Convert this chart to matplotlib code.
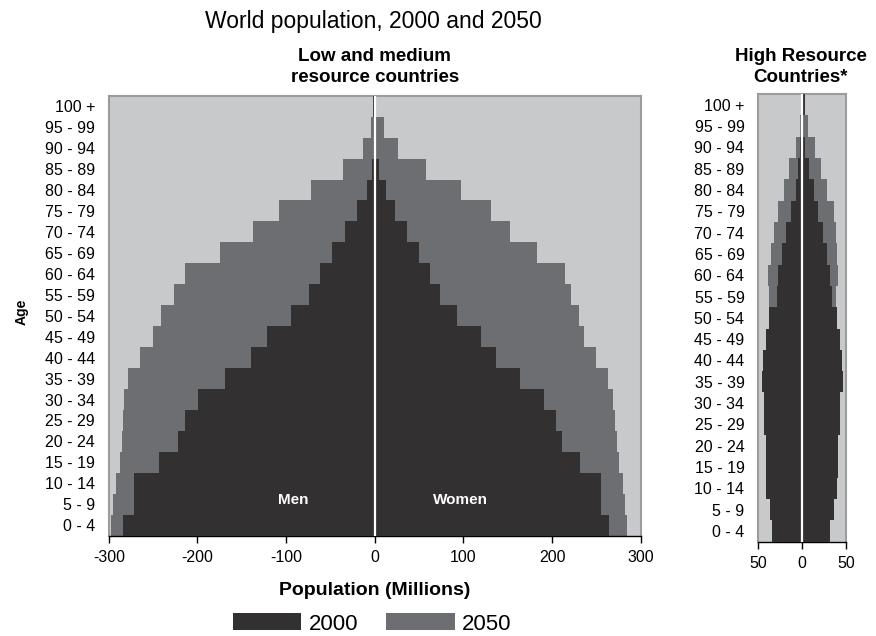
import matplotlib
matplotlib.use("Agg")
import matplotlib.pyplot as plt
from matplotlib.patches import Patch
import numpy as np

plt.rcParams['font.family'] = ['Liberation Sans', 'DejaVu Sans']

ages = ['0 - 4', '5 - 9', '10 - 14', '15 - 19', '20 - 24', '25 - 29', '30 - 34',
        '35 - 39', '40 - 44', '45 - 49', '50 - 54', '55 - 59', '60 - 64', '65 - 69',
        '70 - 74', '75 - 79', '80 - 84', '85 - 89', '90 - 94', '95 - 99', '100 +']

# Low and medium resource countries (millions)
low_men_2000 = [283.5, 272, 272, 243, 222, 213.5, 199.5, 169, 139.5, 122, 94.5,
                74, 62, 48, 33.5, 20, 9, 3.2, 0.8, 0.6, 1.5]
low_men_2050 = [297.8, 295.5, 291.8, 287, 285, 283.5, 282.4, 278, 264.7, 249.7, 241,
                227, 213.6, 174.5, 137, 108, 72, 35.5, 13, 4.3, 0.5]
low_women_2000 = [264, 255, 255, 231, 211, 204, 191, 164, 136.5, 119.5, 92.3,
                  73.5, 62, 50, 36, 22.4, 12.3, 4.2, 1.2, 0.8, 0.3]
low_women_2050 = [284, 282, 279.5, 275.7, 273, 271, 269, 263, 249.4, 235.5, 230,
                  221, 214, 182.5, 152, 130.6, 96.8, 57.4, 25.8, 10, 0.5]

# High resource countries (millions)
high_men_2000 = [34.4, 36.7, 40.9, 40.9, 41.6, 43.5, 43.5, 45.8, 44.7, 41.2, 37.8,
                 28.4, 27.6, 23, 18.9, 12.8, 6.8, 4.5, 2.5, 1.0, 0.3]
high_men_2050 = [30, 31, 32, 33, 34, 36, 37, 38, 38, 38, 37,
                 37.5, 38.6, 35.2, 32.2, 27.6, 20.4, 15.1, 7.2, 2.6, 0.5]
high_women_2000 = [31.1, 36, 39.4, 40.6, 40.6, 42.8, 42.8, 46.2, 45.1, 42.8, 39,
                   34.1, 31.5, 27.7, 23.9, 18.2, 13.3, 8, 3, 1.0, 2.5]
high_women_2050 = [28, 29.5, 30.5, 31.5, 32.5, 34, 35, 36.5, 37, 37.5, 38.5,
                   38, 40.6, 39.4, 38, 36.4, 28.4, 20.8, 14.4, 6.1, 1.0]

left_ticks = [-300, -200, -100, 0, 100, 200, 300]
left_ticklabels = ['-300', '-200', '-100', '0', '100', '200', '300']
right_ticks = [-50, 0, 50]
right_ticklabels = ['50', '0', '50']

C_BG = '#c8c9cb'
C_2000 = '#323031'
C_2050 = '#6d6e71'
C_SPINE = '#9c9c9c'

W, H = 876, 636
fig = plt.figure(figsize=(W / 100, H / 100), dpi=100)


def px_axes(x0, x1, y0, y1):
    return fig.add_axes([x0 / W, 1 - y1 / H, (x1 - x0) / W, (y1 - y0) / H])


def draw_panel(ax, men00, men50, wom00, wom50, xlim, ticks, ticklabels):
    y = np.arange(len(ages))
    ax.set_facecolor(C_BG)
    ax.barh(y, -np.array(men50), height=1.0, color=C_2050, linewidth=0, zorder=2)
    ax.barh(y, np.array(wom50), height=1.0, color=C_2050, linewidth=0, zorder=2)
    ax.barh(y, -np.array(men00), height=1.0, color=C_2000, linewidth=0, zorder=3)
    ax.barh(y, np.array(wom00), height=1.0, color=C_2000, linewidth=0, zorder=3)
    ax.axvline(0, color='white', linewidth=1.6, zorder=4)
    ax.set_xlim(*xlim)
    ax.set_ylim(-0.5, len(ages) - 0.5)
    ax.set_yticks(y)
    ax.set_yticklabels(ages, fontsize=11.5)
    ax.tick_params(axis='y', length=0, pad=10)
    ax.set_xticks(ticks)
    ax.set_xticklabels(ticklabels, fontsize=11.5)
    ax.tick_params(axis='x', length=5, width=1, color='black', pad=5, direction='out')
    for side in ['top', 'left', 'right']:
        ax.spines[side].set_color(C_SPINE)
        ax.spines[side].set_linewidth(1.5)
    ax.spines['bottom'].set_color('black')
    ax.spines['bottom'].set_linewidth(1.0)


ax1 = px_axes(108.8, 640.8, 95.7, 535.7)
draw_panel(ax1, low_men_2000, low_men_2050, low_women_2000, low_women_2050,
           (-300, 300), left_ticks, left_ticklabels)
ax1.text(-92, 1.2, 'Men', color='white', fontsize=11, fontweight='bold',
         ha='center', va='center', zorder=5)
ax1.text(97, 1.2, 'Women', color='white', fontsize=11, fontweight='bold',
         ha='center', va='center', zorder=5)

ax2 = px_axes(758.3, 846.3, 94, 541.7)
draw_panel(ax2, high_men_2000, high_men_2050, high_women_2000, high_women_2050,
           (-50, 50), right_ticks, right_ticklabels)

# Titles
fig.text(373 / W, 1 - 27.7 / H, 'World population, 2000 and 2050', ha='center',
         va='baseline', fontsize=16.5)
fig.text(374.8 / W, 1 - 60.7 / H, 'Low and medium', ha='center', va='baseline',
         fontsize=13.5, fontweight='bold')
fig.text(374.8 / W, 1 - 81.7 / H, 'resource countries', ha='center', va='baseline',
         fontsize=13.5, fontweight='bold')
fig.text(801 / W, 1 - 60.7 / H, 'High Resource', ha='center', va='baseline',
         fontsize=13.5, fontweight='bold')
fig.text(801 / W, 1 - 81.7 / H, 'Countries*', ha='center', va='baseline',
         fontsize=13.5, fontweight='bold')

fig.text(22 / W, 1 - 312 / H, 'Age', rotation=90, ha='center', va='center',
         fontsize=10, fontweight='bold')
fig.text(374.8 / W, 1 - 595 / H, 'Population (Millions)', ha='center',
         va='baseline', fontsize=14, fontweight='bold')

handles = [Patch(facecolor=C_2000, edgecolor='none', label='2000'),
           Patch(facecolor=C_2050, edgecolor='none', label='2050')]
fig.legend(handles=handles, loc='center', bbox_to_anchor=(372.2 / W, 1 - 624 / H),
           ncol=2, frameon=False, fontsize=16, handlelength=3.1, handleheight=0.77,
           handletextpad=0.33, columnspacing=1.25, borderpad=0, borderaxespad=0)

fig.savefig('out.png', dpi=100)
